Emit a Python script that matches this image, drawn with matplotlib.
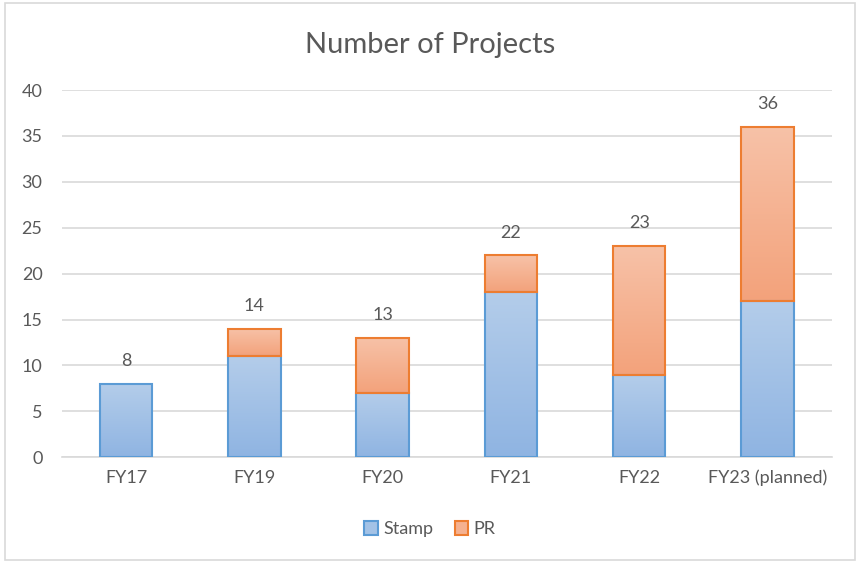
import numpy as np
import matplotlib
matplotlib.use("Agg")
import matplotlib.pyplot as plt
from matplotlib.colors import LinearSegmentedColormap
from matplotlib.patches import Rectangle, Patch

plt.rcParams['font.family'] = ['Lato', 'DejaVu Sans']

categories = ['FY17', 'FY19', 'FY20', 'FY21', 'FY22', 'FY23 (planned)']
stamp = [8, 11, 7, 18, 9, 17]
pr = [0, 3, 6, 4, 14, 19]
totals = [s + p for s, p in zip(stamp, pr)]

txt = '#595959'
grid = '#d9d9d9'

fig = plt.figure(figsize=(8.6, 5.63), dpi=100)
ax = fig.add_axes([0.072, 0.188, 0.895, 0.652])

x = np.arange(len(categories))
w = 0.41
b1 = ax.bar(x, stamp, w, facecolor='none', edgecolor='#5b9bd5', linewidth=1.5, zorder=3)
b2 = ax.bar(x, pr, w, bottom=stamp, facecolor='none', edgecolor='#ed7d31', linewidth=1.5, zorder=3)

cm_blue = LinearSegmentedColormap.from_list('b', ['#8fb4e2', '#b4cdea'])
cm_orng = LinearSegmentedColormap.from_list('o', ['#f3a27b', '#f7c2a8'])


def fill_gradient(bars, cmap):
    grad = np.linspace(0, 1, 256).reshape(-1, 1)
    for r in bars:
        h = r.get_height()
        if h <= 0:
            r.set_visible(False)
            continue
        x0, y0 = r.get_x(), r.get_y()
        im = ax.imshow(grad, cmap=cmap, origin='lower', aspect='auto',
                       extent=(x0, x0 + r.get_width(), y0, y0 + h), zorder=2)
        im.set_clip_path(r)


fill_gradient(b1, cm_blue)
fill_gradient(b2, cm_orng)

for xi, t in zip(x, totals):
    ax.text(xi, t + 1.6, str(t), ha='center', va='bottom', color=txt, fontsize=13)

ax.set_xlim(-0.5, len(categories) - 0.5)
ax.set_ylim(0, 40)
ax.set_yticks(range(0, 41, 5))
ax.set_xticks(x)
ax.set_xticklabels(categories)
ax.tick_params(axis='both', length=0, colors=txt, labelsize=13)
ax.tick_params(axis='y', pad=14)
ax.tick_params(axis='x', pad=9)
ax.yaxis.grid(True, color=grid, linewidth=1.2)
ax.set_axisbelow(True)
for s in ['top', 'right', 'left']:
    ax.spines[s].set_visible(False)
ax.spines['bottom'].set_color(grid)
ax.spines['bottom'].set_linewidth(1.2)

fig.text(0.5, 0.92, 'Number of Projects', ha='center', va='center', color=txt, fontsize=21)

handles = [Patch(facecolor='#a3c2e6', edgecolor='#5b9bd5', linewidth=1.5, label='Stamp'),
           Patch(facecolor='#f5b190', edgecolor='#ed7d31', linewidth=1.5, label='PR')]
fig.legend(handles=handles, loc='center', bbox_to_anchor=(0.5, 0.06), ncol=2, frameon=False,
           fontsize=13, labelcolor=txt, handlelength=0.75, handleheight=0.75, handletextpad=0.3,
           columnspacing=1.2)

fig.patches.append(Rectangle((0.006, 0.006), 0.988, 0.988, transform=fig.transFigure,
                             fill=False, edgecolor='#d9d9d9', linewidth=1.2))

fig.savefig('out.png', dpi=100)
